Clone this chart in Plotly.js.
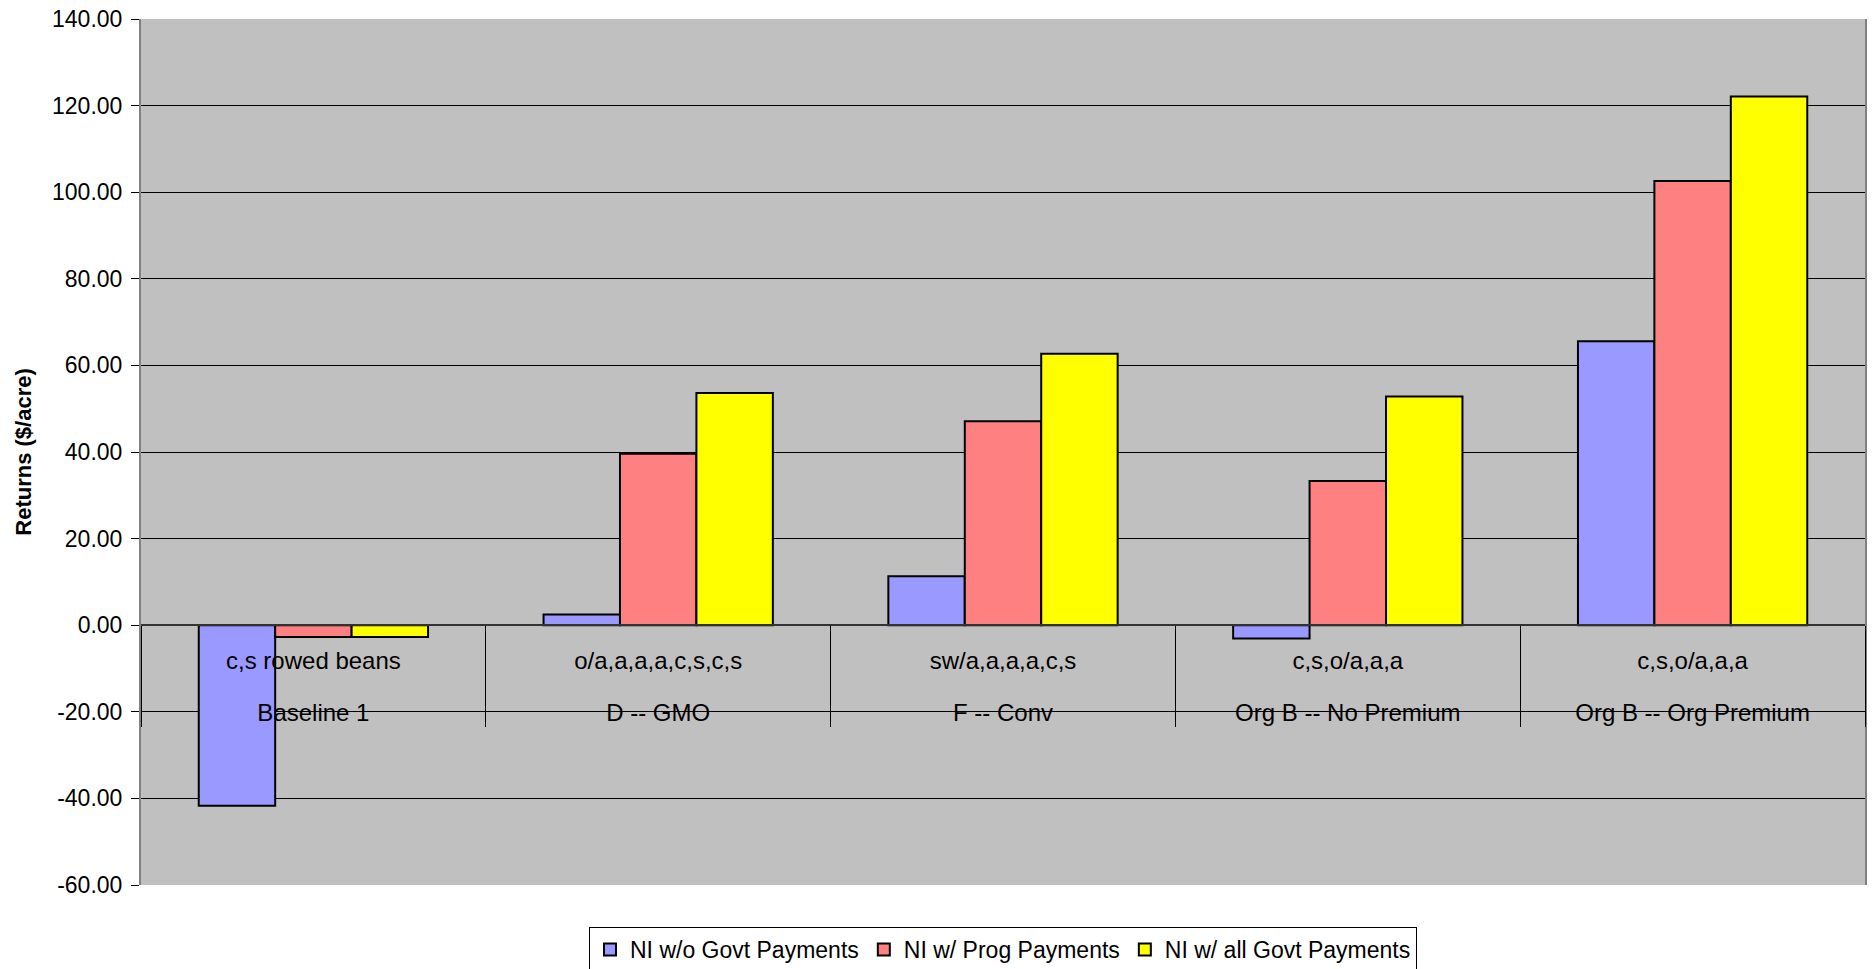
<!DOCTYPE html>
<html>
<head>
<meta charset="utf-8">
<script src="https://cdn.plot.ly/plotly-3.0.1.min.js"></script>
<style>
  html, body { margin: 0; padding: 0; background: #ffffff; }
  #chart { width: 1873px; height: 969px; }
</style>
</head>
<body>
<div id="chart"></div>
<script>
// Scenario labels (outer row) and rotation labels (inner row)
const scenarios = ["Baseline 1", "D -- GMO", "F -- Conv", "Org B -- No Premium", "Org B -- Org Premium"];
const rotations = ["c,s rowed beans", "o/a,a,a,a,c,s,c,s", "sw/a,a,a,a,c,s", "c,s,o/a,a,a", "c,s,o/a,a,a"];

// Series values ($/acre)
const niNoGovt   = [-41.7, 2.5, 11.3, -3.1, 65.6];
const niProg     = [-2.7, 39.6, 47.1, 33.3, 102.6];
const niAllGovt  = [-2.7, 53.6, 62.7, 52.8, 122.1];

const seriesNames = ["NI w/o Govt Payments", "NI w/ Prog Payments", "NI w/ all Govt Payments"];

// Y axis ticks
const yTickVals  = [140, 120, 100, 80, 60, 40, 20, 0, -20, -40, -60];
const yTickText  = ["140.00", "120.00", "100.00", "80.00", "60.00", "40.00", "20.00", "0.00", "-20.00", "-40.00", "-60.00"];

const FONT = "Liberation Sans, Arial, sans-serif";
// inner labels get a blank spacer line to open up the gap to the outer row
const innerLabels = rotations.map(r => r + "<br><span style='font-size:54px'> </span>");
const xCats = [scenarios, innerLabels];

function barTrace(name, vals, color) {
  return {
    type: "bar",
    name: name,
    x: xCats,
    y: vals,
    marker: { color: color, line: { color: "#000000", width: 2 } },
    hoverinfo: "y+name"
  };
}

const data = [
  barTrace(seriesNames[0], niNoGovt, "#9999FF"),
  barTrace(seriesNames[1], niProg, "#FF8080"),
  barTrace(seriesNames[2], niAllGovt, "#FFFF00")
];

const layout = {
  width: 1873,
  height: 969,
  margin: { l: 141, r: 8, t: 19, b: 84, pad: 0 },
  paper_bgcolor: "#ffffff",
  plot_bgcolor: "#C0C0C0",
  font: { family: FONT, size: 23, color: "#000000" },
  barmode: "group",
  bargap: 0.335,
  bargroupgap: 0,
  showlegend: true,
  legend: {
    orientation: "h",
    xref: "paper",
    yref: "container",
    x: 0.5, xanchor: "center",
    y: 0.0433, yanchor: "top",
    bgcolor: "#ffffff",
    bordercolor: "#000000",
    borderwidth: 1,
    font: { family: FONT, size: 23, color: "#000000" },
    itemwidth: 30,
    traceorder: "normal"
  },
  xaxis: {
    type: "multicategory",
    anchor: "free",
    position: 0.3,
    showgrid: false,
    zeroline: false,
    showline: true,
    linecolor: "#333333",
    linewidth: 2,
    ticks: "outside",
    ticklen: 0,
    tickcolor: "#000000",
    ticklabelstandoff: 14,
    showdividers: true,
    dividercolor: "#000000",
    dividerwidth: 1,
    tickfont: { family: FONT, size: 24, color: "#000000" },
    automargin: false,
    fixedrange: true
  },
  yaxis: {
    range: [-60, 140],
    tickvals: yTickVals,
    ticktext: yTickText,
    showgrid: true,
    gridcolor: "#000000",
    gridwidth: 1,
    zeroline: false,
    showline: true,
    linecolor: "#808080",
    linewidth: 2,
    mirror: true,
    ticks: "outside",
    ticklen: 8,
    tickcolor: "#000000",
    ticklabelstandoff: 4,
    tickfont: { family: FONT, size: 23, color: "#000000" },
    title: { text: "<b>Returns ($/acre)</b>", font: { family: FONT, size: 22, color: "#000000" }, standoff: 14 },
    automargin: false,
    fixedrange: true
  }
};

Plotly.newPlot("chart", data, layout, { displayModeBar: false, staticPlot: true });
</script>
</body>
</html>
